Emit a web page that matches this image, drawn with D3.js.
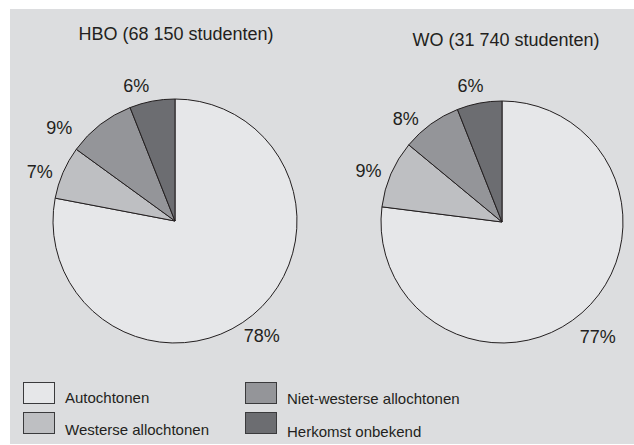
<!DOCTYPE html>
<html>
<head>
<meta charset="utf-8">
<script src="https://cdn.jsdelivr.net/npm/d3@7"></script>
<style>
  html, body { margin: 0; padding: 0; background: #ffffff; }
  svg { display: block; }
  text { font-family: "Liberation Sans", Arial, Helvetica, sans-serif; fill: #231f20; }
</style>
</head>
<body>
<svg id="chart" width="634" height="445"></svg>
<script>
// ---- data ----
const categories = ["Autochtonen", "Westerse allochtonen", "Niet-westerse allochtonen", "Herkomst onbekend"];
const hboValues = [78, 7, 9, 6];
const woValues = [77, 9, 8, 6];
const chartTitles = ["HBO (68 150 studenten)", "WO (31 740 studenten)"];
const legendOrder = ["Autochtonen", "Niet-westerse allochtonen", "Westerse allochtonen", "Herkomst onbekend"];

// ---- style / layout ----
const colors = d3.scaleOrdinal()
  .domain(categories)
  .range(["#e6e7e9", "#bebfc2", "#949599", "#6c6d71"]);
const strokeColor = "#231f20";

const svg = d3.select("#chart");
svg.append("rect")
  .attr("x", 10).attr("y", 9)
  .attr("width", 624).attr("height", 435)
  .attr("fill", "#dcdddf");

const pies = [
  { values: hboValues, title: chartTitles[0], cx: 175, cy: 221, r: 122, titleX: 176, titleY: 40,
    labelAngles: [143, 290, 309, 344], labelDist: [144, 144, 149, 141] },
  { values: woValues, title: chartTitles[1], cx: 502, cy: 222, r: 121, titleX: 506, titleY: 46,
    labelAngles: [140, 291, 317, 347], labelDist: [149, 143, 141, 140] }
];

const pieGen = d3.pie().sort(null).value(d => d.value);

pies.forEach(p => {
  const data = categories.map((c, i) => ({ cat: c, value: p.values[i] }));
  const arcs = pieGen(data);
  const arc = d3.arc().innerRadius(0).outerRadius(p.r);
  const g = svg.append("g").attr("transform", `translate(${p.cx},${p.cy})`);

  g.selectAll("path.slice")
    .data(arcs)
    .enter().append("path")
    .attr("class", "slice")
    .attr("d", arc)
    .attr("fill", d => colors(d.data.cat))
    .attr("stroke", strokeColor)
    .attr("stroke-width", 1)
    .attr("stroke-linejoin", "round");

  g.selectAll("text.lbl")
    .data(arcs)
    .enter().append("text")
    .attr("class", "lbl")
    .attr("x", (d, i) => p.labelDist[i] * Math.sin(p.labelAngles[i] * Math.PI / 180))
    .attr("y", (d, i) => -p.labelDist[i] * Math.cos(p.labelAngles[i] * Math.PI / 180))
    .attr("dy", "0.36em")
    .attr("text-anchor", "middle")
    .style("font-size", "18px")
    .text(d => d.data.value + "%");

  svg.append("text")
    .attr("x", p.titleX).attr("y", p.titleY)
    .attr("text-anchor", "middle")
    .style("font-size", "18px")
    .text(p.title);
});

// ---- legend ----
const legendPos = [
  { x: 23, y: 382, ty: 403 },
  { x: 245, y: 382, ty: 404 },
  { x: 23, y: 412, ty: 435 },
  { x: 245, y: 412, ty: 437 }
];
const lg = svg.append("g");
legendOrder.forEach((c, i) => {
  const pos = legendPos[i];
  lg.append("rect")
    .attr("x", pos.x + 0.5).attr("y", pos.y + 0.5)
    .attr("width", 31).attr("height", 21)
    .attr("fill", colors(c))
    .attr("stroke", "#3a3a3c")
    .attr("stroke-width", 1);
  lg.append("text")
    .attr("x", pos.x + 42).attr("y", pos.ty)
    .style("font-size", "15px")
    .text(c);
});
</script>
</body>
</html>
